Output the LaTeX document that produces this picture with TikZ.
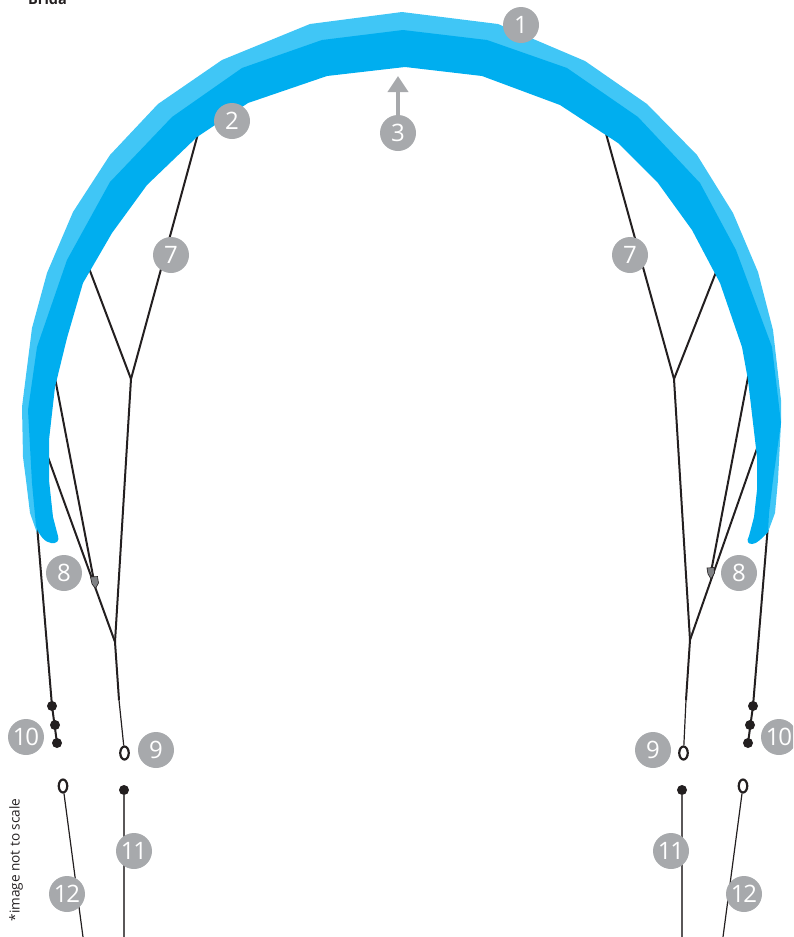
\documentclass[tikz,border=0pt]{standalone}
\usepackage{fontspec}
\setmainfont{Open Sans}
\definecolor{kitelight}{HTML}{40C6F6}
\definecolor{kitemain}{HTML}{00AEEF}
\definecolor{badgegrey}{HTML}{A7A9AC}
\definecolor{linedark}{HTML}{231F20}
\definecolor{pulleygrey}{HTML}{808285}
\tikzset{
  badge/.style={circle,fill=badgegrey,inner sep=0pt,minimum size=36pt,text=white,font=\fontsize{24}{24}\selectfont\addfontfeatures{LetterSpace=-5}},
  bridle/.style={draw=linedark,line width=2pt},
  thinline/.style={draw=linedark,line width=1.2pt},
  dotend/.style={circle,fill=linedark,inner sep=0pt,minimum size=10pt},
  ringend/.style={ellipse,draw=linedark,fill=white,line width=2.2pt,inner sep=0pt,minimum width=8.5pt,minimum height=13pt},
}
\usetikzlibrary{shapes.geometric,arrows.meta}
\begin{document}
\begin{tikzpicture}[x=1pt,y=-1pt]
\useasboundingbox (0,0) rectangle (793,937);
\clip (0,0) rectangle (793,937);
% anchor points
\coordinate (la) at (199,130);
\coordinate (lb) at (87,263);
\coordinate (lj) at (131,379);
\coordinate (lk) at (115,642);
\coordinate (lm) at (119,700);
\coordinate (lc) at (45,449);
\coordinate (ld) at (55,378);
\coordinate (le) at (37,525);
\coordinate (lp) at (94,581);
\coordinate (ra) at (605,130);
\coordinate (rb) at (720,262);
\coordinate (rj) at (674,379);
\coordinate (rk) at (690,640);
\coordinate (rm) at (686,700);
\coordinate (rc) at (760,440);
\coordinate (rd) at (749,372);
\coordinate (re) at (768,525);
\coordinate (rp) at (711,572);
\coordinate (l11e) at (124,937);
\coordinate (r11e) at (682,937);
\coordinate (l12e) at (83,937);
\coordinate (r12e) at (723,937);
% ends
\node[dotend] (ld1) at (52,706) {};
\node[dotend] (ld2) at (55,725) {};
\node[dotend] (ld3) at (57,743) {};
\node[dotend] (rd1) at (753,706) {};
\node[dotend] (rd2) at (750,725) {};
\node[dotend] (rd3) at (748,743) {};
\node[dotend] (l11) at (124,790) {};
\node[dotend] (r11) at (682,790) {};
% lines
\draw[bridle] (la) -- (lj);
\draw[bridle] (lb) -- (lj);
\draw[bridle] (lj) -- (lk);
\draw[bridle] (lk) -- (lm);
\draw[bridle] (lc) -- (lk);
\draw[bridle] (ld) -- (lp);
\draw[bridle] (le) -- (ld1.center);
\draw[bridle] (ld1.center) -- (ld3.center);
\draw[bridle] (ra) -- (rj);
\draw[bridle] (rb) -- (rj);
\draw[bridle] (rj) -- (rk);
\draw[bridle] (rk) -- (rm);
\draw[bridle] (rc) -- (rk);
\draw[bridle] (rd) -- (rp);
\draw[bridle] (re) -- (rd1.center);
\draw[bridle] (rd1.center) -- (rd3.center);
% rings
\node[ringend] (l9) at (124.5,753) {};
\node[ringend] (r9) at (683.5,753) {};
\node[ringend] (l12) at (63,786) {};
\node[ringend] (r12) at (743,786) {};
\draw[thinline] (lm) -- (l9);
\draw[thinline] (rm) -- (r9);
\draw[thinline] (l12) -- (l12e);
\draw[thinline] (r12) -- (r12e);
\draw[draw=linedark!75,line width=1.6pt] (l11) -- (l11e);
\draw[draw=linedark!75,line width=1.6pt] (r11) -- (r11e);
% kite, light band
\fill[kitelight] (402,12) -- (498,24) -- (585,61) -- (647,104) -- (697,155) -- (733,213) -- (758,272) -- (773,330) -- (781,400) -- (781,423) -- (778,480) -- (775,513) -- (768,532) -- (760,510) -- (765,423) -- (755,347) -- (720,255) -- (680,183) -- (625,125) -- (562,85) -- (485,55) -- (403,45) -- (325,55) -- (245,85) -- (185,125) -- (128,183) -- (85,255) -- (50,347) -- (40,410) -- (42,500) -- (37,533) -- (30,513) -- (26,480) -- (23,457) -- (22,407) -- (32,328) -- (47,273) -- (73,212) -- (110,155) -- (158,104) -- (222,60) -- (310,24) -- cycle;
% kite, main band
\fill[kitemain] (403,30) -- (487,40) -- (567,68) -- (638,117) -- (700,183) -- (736,250) -- (772,347) -- (781,423) -- (773,480) -- (769,513) -- (768,532)
  .. controls (762,538) and (757,544) .. (752,544) .. controls (748,544) and (746,541) .. (749,536)
  -- (754,517) -- (757,490) -- (757,457) -- (748,380) -- (742,347) -- (720,283) -- (692,230) -- (658,183) -- (618,143) -- (560,105) -- (482,76) -- (405,67) -- (327,76) -- (248,103) -- (197,137) -- (147,185) -- (112,233) -- (83,283) -- (67,338) -- (55,387) -- (49,440) -- (49,480) -- (53,517)
  -- (58,536) .. controls (60,541) and (56,544) .. (51,543) .. controls (45,542) and (40,537) .. (36,526)
  -- (32,483) -- (28,410) -- (37,347) -- (67,260) -- (110,182) -- (172,117) -- (242,68) -- (322,40) -- cycle;
% pulleys
\fill[pulleygrey,draw=linedark,line width=.6pt] (90.5,577) -- (97.5,576.5) -- (98.5,583) -- (95.5,588.5) -- (92,584) -- cycle;
\fill[pulleygrey,draw=linedark,line width=.6pt] (707,568) -- (714,567.5) -- (714.5,573) -- (711,579) -- (708,574) -- cycle;
% arrow of 3
\node[badge] (b3) at (398,133) {3};
\coordinate (tip3) at (398,76);
\draw[badgegrey,line width=3.6pt,-{Triangle[length=16pt,width=20pt]}] (b3) -- (tip3);
% badges
\node[badge] (b1) at (521,25) {1};
\node[badge] (b2) at (232,121) {2};
\node[badge] (b7l) at (171,255) {7};
\node[badge] (b7r) at (630,255) {7};
\node[badge] (b8l) at (64,573) {8};
\node[badge] (b8r) at (739,573) {8};
\node[badge] (b9l) at (156,750) {9};
\node[badge] (b9r) at (653,750) {9};
\node[badge] (b10l) at (26,737) {10};
\node[badge] (b10r) at (779,737) {10};
\node[badge] (b11l) at (134,851) {11};
\node[badge] (b11r) at (671,851) {11};
\node[badge] (b12l) at (67,894) {12};
\node[badge] (b12r) at (744,894) {12};
% texts
\node[anchor=base west,inner sep=0pt,font=\fontsize{14.5}{14.5}\selectfont\bfseries,text=linedark] (title) at (28,4) {Brida};
\node[rotate=90,inner sep=0pt,font=\fontsize{13.6}{13.6}\selectfont,text=linedark] (note) at (16,860) {*image not to scale};
\end{tikzpicture}
\end{document}
